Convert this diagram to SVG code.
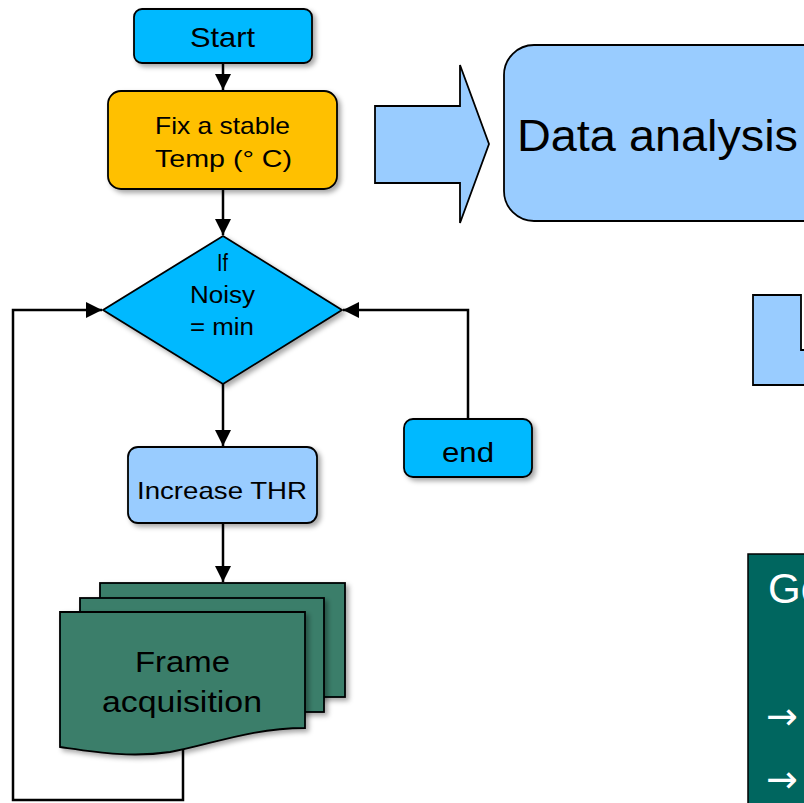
<svg xmlns="http://www.w3.org/2000/svg" width="804" height="803" viewBox="0 0 804 803">
<defs>
<filter id="sh" x="-10%" y="-10%" width="130%" height="130%">
<feDropShadow dx="3" dy="3" stdDeviation="2.5" flood-color="#000" flood-opacity="0.35"/>
</filter>
<marker id="ah" viewBox="0 0 10 10" refX="10" refY="5" markerWidth="16" markerHeight="16" markerUnits="userSpaceOnUse" orient="auto">
<path d="M0,0 L10,5 L0,10 Z" fill="#000"/>
</marker>
<style>
.n{stroke:#000;stroke-width:1.8}
.t{font-family:"Liberation Sans",Arial,sans-serif;fill:#000}
.c{fill:none;stroke:#000;stroke-width:2.5}
</style>
</defs>
<rect width="804" height="803" fill="#fff"/>

<g id="connectors">
<line class="c" x1="223" y1="63" x2="223" y2="90" marker-end="url(#ah)"/>
<line class="c" x1="223" y1="189" x2="223" y2="235" marker-end="url(#ah)"/>
<line class="c" x1="223" y1="384" x2="223" y2="446" marker-end="url(#ah)"/>
<line class="c" x1="223" y1="523" x2="223" y2="582" marker-end="url(#ah)"/>
<polyline class="c" points="183,748 183,800 13,800 13,310 102,310" marker-end="url(#ah)"/>
<polyline class="c" points="468,419 468,310 343,310" marker-end="url(#ah)"/>
</g>

<g id="start">
<rect class="n" x="134" y="9" width="178" height="54" rx="8" fill="#00B9FF" filter="url(#sh)"/>
<text class="t" x="190" y="47" font-size="28" textLength="65" lengthAdjust="spacingAndGlyphs">Start</text>
</g>

<g id="fix">
<rect class="n" x="108" y="91" width="229" height="98" rx="13" fill="#FFC000" filter="url(#sh)"/>
<text class="t" x="155" y="134" font-size="24" textLength="135" lengthAdjust="spacingAndGlyphs">Fix a stable</text>
<text class="t" x="155" y="167" font-size="24" textLength="137" lengthAdjust="spacingAndGlyphs">Temp (°  C)</text>
</g>

<g id="decision">
<polygon class="n" points="223,236 342,310 223,384 103,310" fill="#00B9FF" filter="url(#sh)"/>
<text class="t" x="217" y="271" font-size="23" textLength="11" lengthAdjust="spacingAndGlyphs">If</text>
<text class="t" x="190" y="303" font-size="23" textLength="65" lengthAdjust="spacingAndGlyphs">Noisy</text>
<text class="t" x="190" y="335" font-size="23" textLength="64" lengthAdjust="spacingAndGlyphs">= min</text>
</g>

<g id="increase">
<rect class="n" x="128" y="447" width="189" height="76" rx="10" fill="#99CCFF" filter="url(#sh)"/>
<text class="t" x="137" y="499" font-size="24" textLength="170" lengthAdjust="spacingAndGlyphs">Increase  THR</text>
</g>

<g id="end">
<rect class="n" x="404" y="419" width="128" height="58" rx="9" fill="#00B9FF" filter="url(#sh)"/>
<text class="t" x="442" y="462" font-size="28" textLength="52" lengthAdjust="spacingAndGlyphs">end</text>
</g>

<g id="frame">
<rect class="n" x="100" y="583" width="245" height="114" fill="#3B7E6A" filter="url(#sh)"/>
<rect class="n" x="80" y="598" width="244" height="114" fill="#3B7E6A" filter="url(#sh)"/>
<path class="n" d="M60,612 L305,612 L305,728 C250,728 210,745 170,752 C130,758 95,752 60,747 Z" fill="#3B7E6A" filter="url(#sh)"/>
<text class="t" x="135" y="672" font-size="30" textLength="95" lengthAdjust="spacingAndGlyphs">Frame</text>
<text class="t" x="102" y="712" font-size="30" textLength="160" lengthAdjust="spacingAndGlyphs">acquisition</text>
</g>

<g id="bigarrow">
<polygon class="n" points="375,106 460,106 460,65 489,144 460,223 460,183 375,183" fill="#99CCFF"/>
</g>

<g id="analysis">
<rect class="n" x="504" y="45" width="330" height="176" rx="30" fill="#99CCFF"/>
<text class="t" x="517" y="151" font-size="45" textLength="281" lengthAdjust="spacingAndGlyphs">Data analysis</text>
</g>

<g id="partial">
<polygon class="n" points="753,295 801,295 801,350 808,350 808,385 753,385" fill="#99CCFF"/>
</g>

<g id="goal">
<rect x="748" y="554" width="70" height="260" fill="#00665F" stroke="#000" stroke-width="1.5"/>
<text x="768" y="603" font-size="42" font-family="Liberation Sans, Arial, sans-serif" fill="#fff">Go</text>
<text x="766" y="729" font-size="38" font-family="DejaVu Sans, sans-serif" fill="#fff">→</text>
<text x="766" y="792" font-size="38" font-family="DejaVu Sans, sans-serif" fill="#fff">→</text>
</g>
</svg>
